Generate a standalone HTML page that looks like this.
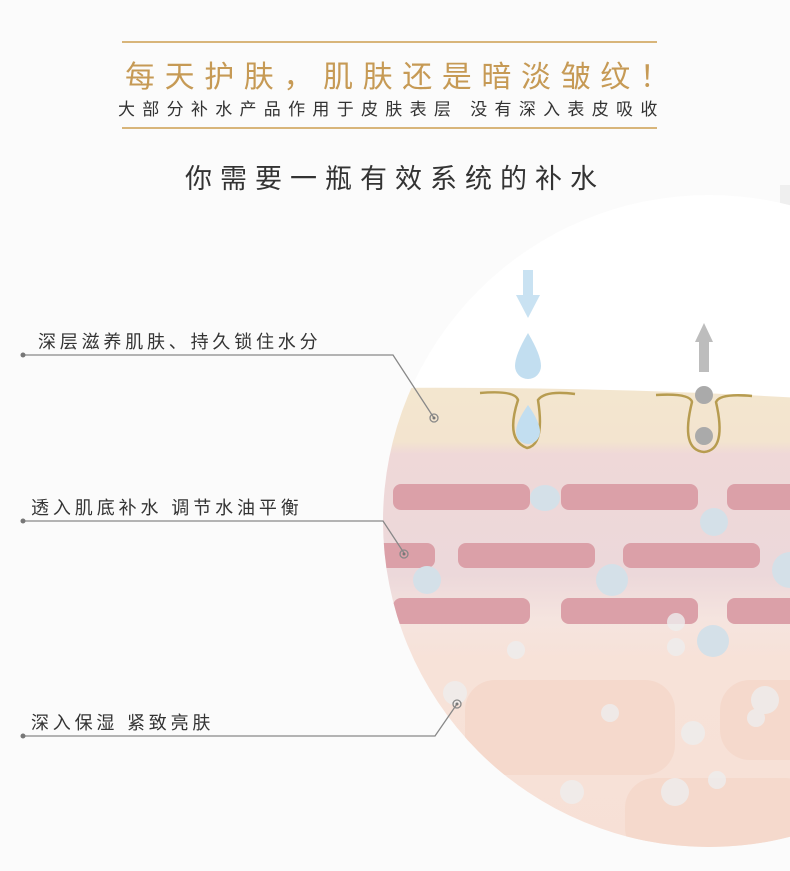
<!DOCTYPE html>
<html><head><meta charset="utf-8"><style>
body{margin:0;width:790px;height:871px;overflow:hidden;background:#fbfbfb;font-family:"Liberation Sans","Noto Sans CJK SC",sans-serif;position:relative}
.t{position:absolute;white-space:nowrap}
.hl{position:absolute;left:122px;width:535px;height:2px;background:#d8b57a}
</style></head><body>
<svg width="790" height="871" style="position:absolute;left:0;top:0">
<defs>
<clipPath id="c"><circle cx="709" cy="521" r="326"/></clipPath>
<linearGradient id="g" x1="0" y1="0" x2="0" y2="1">
<stop offset="0" stop-color="#f3e6cf"/><stop offset="0.11" stop-color="#f3e4cf"/>
<stop offset="0.135" stop-color="#efd8d8"/><stop offset="0.38" stop-color="#ecd8da"/>
<stop offset="0.47" stop-color="#f5e4df"/><stop offset="0.55" stop-color="#f7e2d8"/>
<stop offset="1" stop-color="#f7e0d6"/></linearGradient>
</defs>
<rect x="780" y="185" width="10" height="170" fill="#efefef"/>
<circle cx="709" cy="521" r="326" fill="#fff"/>
<g clip-path="url(#c)">
<path d="M370 388 Q600 386 800 398 L800 880 L370 880Z" fill="url(#g)"/>
<g fill="#dba0a8">
<rect x="393" y="484" width="137" height="26" rx="8"/><rect x="561" y="484" width="137" height="26" rx="8"/><rect x="727" y="484" width="80" height="26" rx="8"/>
<rect x="370" y="543" width="65" height="25" rx="8"/><rect x="458" y="543" width="137" height="25" rx="8"/><rect x="623" y="543" width="137" height="25" rx="8"/>
<rect x="393" y="598" width="137" height="26" rx="8"/><rect x="561" y="598" width="137" height="26" rx="8"/><rect x="727" y="598" width="80" height="26" rx="8"/>
</g>
<g fill="#d4e0e8">
<ellipse cx="545" cy="498" rx="15" ry="13"/><circle cx="714" cy="522" r="14"/><circle cx="427" cy="580" r="14"/><circle cx="612" cy="580" r="16"/><circle cx="790" cy="570" r="18"/><circle cx="713" cy="641" r="16"/>
</g>
<g fill="#f5d9cc"><rect x="465" y="680" width="210" height="95" rx="30"/><rect x="720" y="680" width="100" height="80" rx="30"/><rect x="625" y="778" width="190" height="80" rx="30"/></g>
<g fill="#eeeeee" opacity="0.8"><circle cx="516" cy="650" r="9"/><circle cx="676" cy="622" r="9"/><circle cx="676" cy="647" r="9"/><circle cx="610" cy="713" r="9"/><circle cx="693" cy="733" r="12"/><circle cx="572" cy="792" r="12"/><circle cx="675" cy="792" r="14"/><circle cx="717" cy="780" r="9"/><circle cx="765" cy="700" r="14"/><circle cx="756" cy="718" r="9"/><circle cx="455" cy="693" r="12"/></g>
</g>
<rect x="523" y="270" width="10" height="26" fill="#c9e2f2"/><path d="M516 295 L540 295 L528 318Z" fill="#c9e2f2"/>
<path d="M528 333 Q541 355 541 366 A13 13 0 0 1 515 366 Q515 355 528 333Z" fill="#c2def0"/>
<path d="M480 393 Q515 390 518 400 Q505 440 527 448 Q545 445 538 400 Q545 390 575 394" fill="none" stroke="#b79c50" stroke-width="2.5"/>
<path d="M528 405 Q540 422 540 432 A12 12 0 0 1 516 432 Q516 422 528 405Z" fill="#c2def0"/>
<path d="M695 342 L713 342 L704 323Z" fill="#bdbdbd"/><rect x="699" y="341" width="10" height="31" fill="#bdbdbd"/>
<path d="M656 395 Q690 393 692 402 Q680 450 704 452 Q727 450 716 402 Q720 393 752 396" fill="none" stroke="#b79c50" stroke-width="2.5"/>
<circle cx="704" cy="395" r="9" fill="#aaa"/><circle cx="704" cy="436" r="9" fill="#aaa"/>
<g stroke="#888" stroke-width="1.3" fill="none">
<polyline points="23,355 393,355 434,418"/><polyline points="23,521 383,521 404,553"/><polyline points="23,736 435,736 457,704"/>
<circle cx="434" cy="418" r="4"/><circle cx="404" cy="554" r="4"/><circle cx="457" cy="704" r="4"/>
</g>
<g fill="#777"><circle cx="23" cy="355" r="2.5"/><circle cx="23" cy="521" r="2.5"/><circle cx="23" cy="736" r="2.5"/><circle cx="434" cy="418" r="1.5"/><circle cx="404" cy="554" r="1.5"/><circle cx="457" cy="704" r="1.5"/></g>
</svg>
<div class="hl" style="top:41px"></div>
<div class="hl" style="top:127px"></div>
<div class="t" style="left:125px;top:52px;font-size:30px;letter-spacing:9.6px;color:#c69a55">每天护肤，肌肤还是暗淡皱纹！</div>
<div class="t" style="left:118px;top:95px;font-size:17px;letter-spacing:7.3px;color:#333">大部分补水产品作用于皮肤表层 没有深入表皮吸收</div>
<div class="t" style="left:185px;top:157px;font-size:27px;letter-spacing:8px;color:#333">你需要一瓶有效系统的补水</div>
<div class="t" style="left:38px;top:328px;font-size:18px;letter-spacing:3.8px;color:#333">深层滋养肌肤、持久锁住水分</div>
<div class="t" style="left:31px;top:494px;font-size:18px;letter-spacing:3.9px;color:#333">透入肌底补水 调节水油平衡</div>
<div class="t" style="left:31px;top:709px;font-size:18px;letter-spacing:3.8px;color:#333">深入保湿 紧致亮肤</div>
</body></html>
